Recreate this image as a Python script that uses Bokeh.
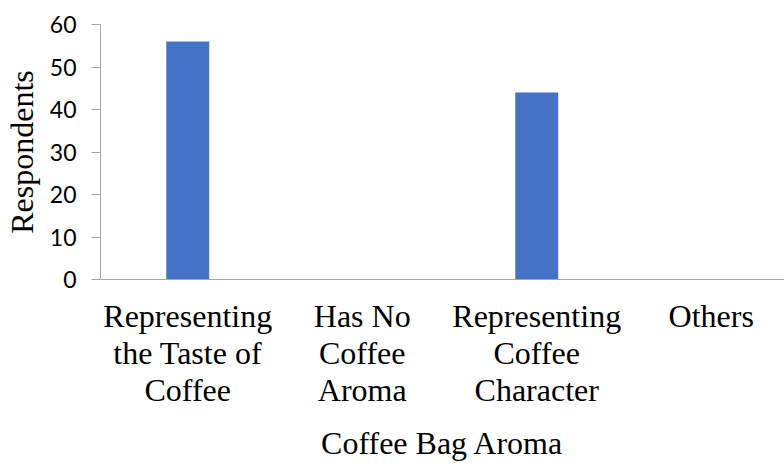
from bokeh.plotting import figure
from bokeh.models import Range1d, FixedTicker, ColumnDataSource
from bokeh.embed import file_html
from bokeh.resources import INLINE

# Survey results: perceived aroma of the coffee bag
categories = [
    "Representing\nthe Taste of\nCoffee",
    "Has No\nCoffee\nAroma",
    "Representing\nCoffee\nCharacter",
    "Others",
]
respondents = [56, 0, 44, 0]
y_ticks = [0, 10, 20, 30, 40, 50, 60]

x_pos = [i + 0.5 for i in range(len(categories))]
source = ColumnDataSource(dict(x=x_pos, top=respondents))

p = figure(
    width=784, height=463,
    output_backend="svg", toolbar_location=None,
    x_range=Range1d(0, 3.92), y_range=Range1d(0, 60),
    min_border_left=100, min_border_right=0,
    min_border_top=24, min_border_bottom=184,
)

p.vbar(x="x", top="top", width=0.246, bottom=0, source=source,
       fill_color="#4472C4", line_color=None)

serif = "Liberation Serif"
axis_gray = "#A6A6A6"

# x axis: category labels, no ticks
xa = p.xaxis[0]
xa.ticker = FixedTicker(ticks=x_pos)
xa.major_label_overrides = {x: c for x, c in zip(x_pos, categories)}
xa.major_tick_out = 0
xa.major_tick_in = 0
xa.minor_tick_out = 0
xa.minor_tick_in = 0
xa.axis_line_color = axis_gray
xa.major_label_text_font = serif
xa.major_label_text_font_size = "32px"
xa.major_label_text_line_height = 1.03
xa.major_label_text_color = "black"
xa.major_label_standoff = 18
xa.axis_label = "Coffee Bag Aroma"
xa.axis_label_text_font = serif
xa.axis_label_text_font_size = "32px"
xa.axis_label_text_font_style = "normal"
xa.axis_label_text_color = "black"
xa.axis_label_standoff = 14

# y axis: respondent counts
ya = p.yaxis[0]
ya.ticker = FixedTicker(ticks=y_ticks)
ya.major_tick_out = 9
ya.major_tick_in = 0
ya.minor_tick_out = 0
ya.minor_tick_in = 0
ya.major_tick_line_color = axis_gray
ya.axis_line_color = axis_gray
ya.major_label_text_font = "Lato"
ya.major_label_text_font_size = "23px"
ya.major_label_text_color = "black"
ya.major_label_standoff = 15
ya.axis_label = "Respondents"
ya.axis_label_text_font = serif
ya.axis_label_text_font_size = "32px"
ya.axis_label_text_font_style = "normal"
ya.axis_label_text_color = "black"
ya.axis_label_standoff = 7

p.grid.visible = False
p.outline_line_color = None
p.background_fill_color = "white"
p.border_fill_color = "white"

open("out.html", "w").write(file_html(p, INLINE))
